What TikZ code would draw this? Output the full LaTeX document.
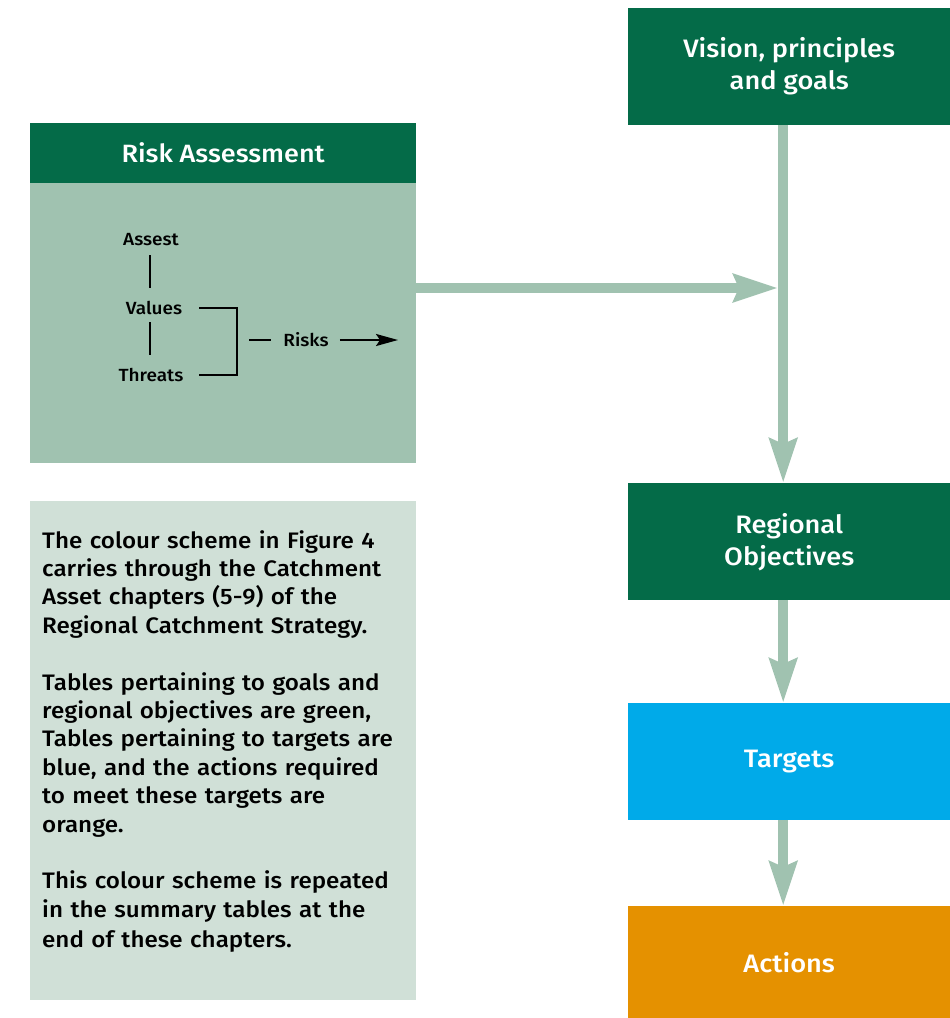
\documentclass[tikz,border=0pt]{standalone}
\usepackage{fontspec}
\setmainfont{Fira Sans}[UprightFont={* Medium}, FakeStretch=1.08]
\usetikzlibrary{arrows.meta}
\definecolor{dkgreen}{HTML}{046B48}
\definecolor{sage}{HTML}{A0C2B0}
\definecolor{pale}{HTML}{D0E0D7}
\definecolor{tblue}{HTML}{00AAE9}
\definecolor{torange}{HTML}{E59100}
\tikzset{
  box/.style={anchor=north west, minimum width=322pt, inner sep=0pt, text=white,
    align=center, font=\fontsize{25.2}{32}\selectfont},
  conn/.style={draw=sage, line width=10pt,
    -{Stealth[length=44pt, width=27pt, inset=5pt, fill=sage]}},
  lbl/.style={font=\fontsize{17.6}{20}\selectfont, inner sep=0pt},
  thinline/.style={line width=2pt},
}
\begin{document}
\begin{tikzpicture}[x=1pt, y=-1pt]
\useasboundingbox (0,0) rectangle (950,1018);
% right column
\node[box, fill=dkgreen, minimum height=117pt] (vision) at (628,8) {Vision, principles\\and goals};
\node[box, fill=dkgreen, minimum height=117pt] (regional) at (628,483) {Regional\\Objectives};
\node[box, fill=tblue, minimum height=117pt] (targets) at (628,703) {Targets};
\node[box, fill=torange, minimum height=112pt] (actions) at (628,906) {Actions};
% risk assessment
\node[anchor=north west, fill=dkgreen, minimum width=386pt, minimum height=60pt, inner sep=0pt,
  text=white, font=\fontsize{25}{28}\selectfont] (riskhead) at (30,123) {Risk Assessment};
\node[anchor=north west, fill=sage, minimum width=386pt, minimum height=280pt, inner sep=0pt] (riskbody) at (30,183) {};
% note box
\node[anchor=north west, fill=pale, minimum width=386pt, minimum height=499pt, inner sep=0pt] (note) at (30,501) {};
\node[anchor=north west, inner sep=0pt, align=left, text width=370pt,
  font=\fontsize{22.4}{28.4}\selectfont] (notetext) at (42,530) {%
The colour scheme in Figure 4\\
carries through the Catchment\\
Asset chapters (5-9) of the\\
Regional Catchment Strategy.\\[28.4pt]
Tables pertaining to goals and\\
regional objectives are green,\\
Tables pertaining to targets are\\
blue, and the actions required\\
to meet these targets are\\
orange.\\[28.4pt]
This colour scheme is repeated\\
in the summary tables at the\\[1.5pt]
end of these chapters.};
% connectors
\coordinate (junction) at (778,288);
\draw[conn] ([xshift=-6pt]vision.south) -- ([xshift=-6pt]regional.north);
\draw[conn] (riskbody.east |- junction) -- (junction);
\draw[conn] ([xshift=-6pt]regional.south) -- ([xshift=-6pt]targets.north);
\draw[conn] ([xshift=-6pt]targets.south) -- ([xshift=-6pt]actions.north);
% inner diagram
\node[lbl] (assest) at (151,240) {Assest};
\node[lbl] (values) at (154,308) {Values};
\node[lbl] (threats) at (151,375) {Threats};
\node[lbl] (risks) at (306,340) {Risks};
\coordinate (a1) at (150,255); \coordinate (a2) at (150,288);
\coordinate (a3) at (150,322); \coordinate (a4) at (150,355);
\coordinate (bv) at (199,308); \coordinate (bt) at (199,375);
\coordinate (brk) at (237,340); \coordinate (rl) at (249,340);
\coordinate (rend) at (398,340);
\draw[thinline] (a1) -- (a2);
\draw[thinline] (a3) -- (a4);
\draw[thinline] (bv) -| (brk) |- (bt);
\draw[thinline] (rl) -- ([xshift=-12pt]risks.west);
\draw[thinline, -{Stealth[length=22pt, width=12pt, inset=4pt]}] ([xshift=11pt]risks.east) -- (rend);
\end{tikzpicture}
\end{document}
